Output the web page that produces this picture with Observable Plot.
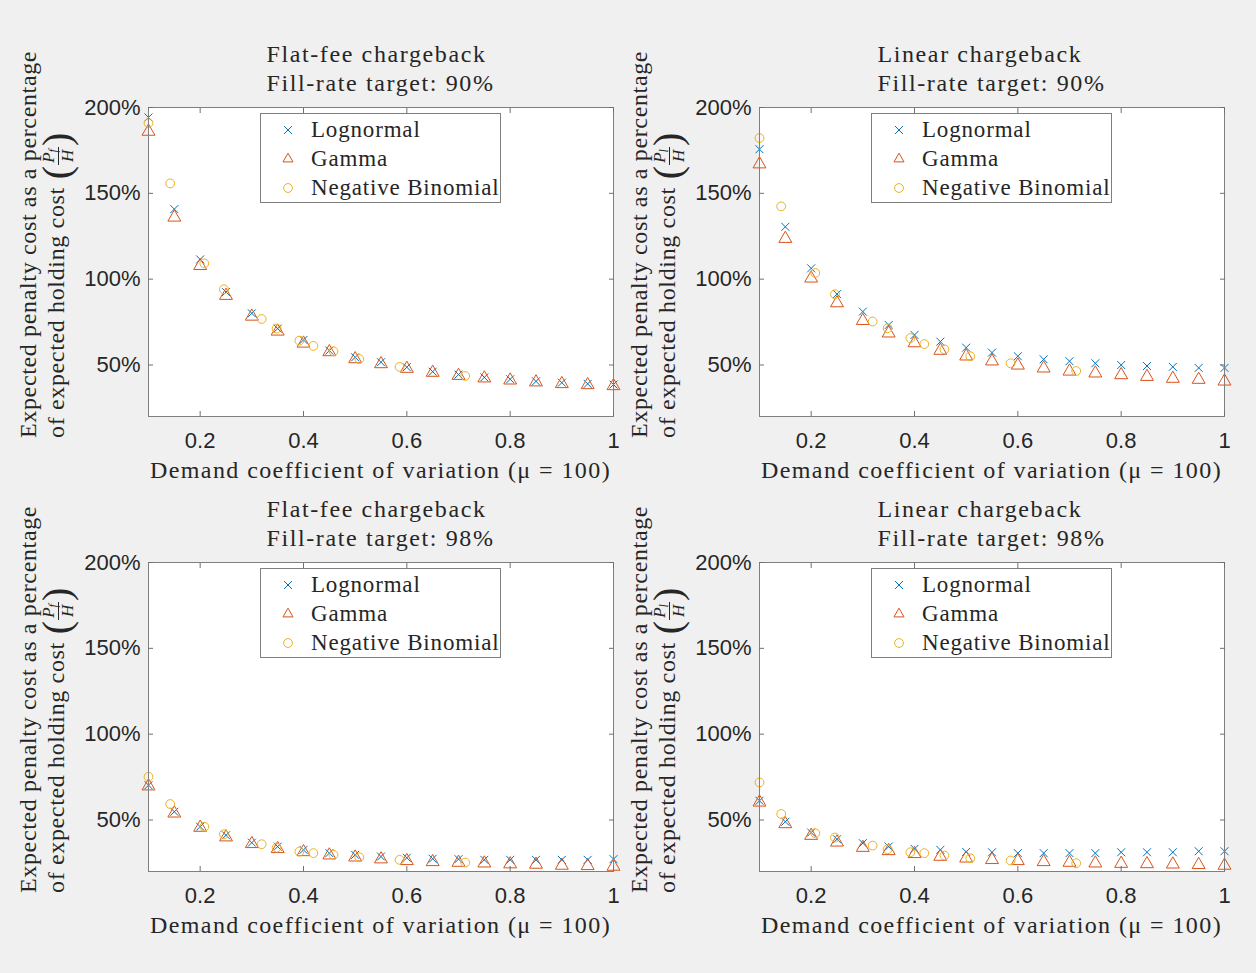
<!DOCTYPE html>
<html>
<head>
<meta charset="utf-8">
<script src="https://cdn.jsdelivr.net/npm/d3@7"></script>
<script src="https://cdn.jsdelivr.net/npm/@observablehq/plot@0.6"></script>
<style>
html, body { margin: 0; padding: 0; background: #f0f0f0; }
#fig { position: relative; width: 1256px; height: 973px; background: #f0f0f0; overflow: hidden; }
.abs { position: absolute; }
.serif { font-family: "Liberation Serif", "Times New Roman", serif; color: #262626; white-space: nowrap; }
.title { font-size: 24px; line-height: 29px; text-align: left; transform: translateX(-50%); }
.xlab { font-size: 24px; line-height: 28px; transform: translateX(-50%); }
.ylab { font-size: 24px; line-height: 28px; transform: rotate(-90deg); transform-origin: 0 0; text-align: left; }
.line { display: block; }
.fit { display: inline-block; }
.par { font-size: 40px; line-height: 0; vertical-align: -6px; font-weight: 300; }
.par.open { margin-left: 8px; }
.frac { display: inline-block; vertical-align: middle; text-align: center; font-size: 17px; line-height: 16px; margin: -16px 1px; letter-spacing: 0; }
.frac .num { display: block; border-bottom: 1px solid #262626; padding: 0 2px 1px 2px; }
.frac .den { display: block; padding-top: 1px; }
.frac sub { font-size: 12px; vertical-align: -3px; line-height: 0; }
.legend { box-sizing: border-box; width: 241px; height: 90px; background: #fff; border: 1px solid #7f7f7f; }
.legend .row { position: absolute; left: 0; height: 29px; width: 100%; }
.legend svg { position: absolute; left: 18px; top: 6px; }
.legend .txt { position: absolute; left: 50px; top: 0; font-size: 23px; line-height: 29px; }
</style>
</head>
<body>
<div id="fig"></div>
<script>
// ---------------- data ----------------
const cv = [0.1, 0.15, 0.2, 0.25, 0.3, 0.35, 0.4, 0.45, 0.5, 0.55, 0.6, 0.65, 0.7, 0.75, 0.8, 0.85, 0.9, 0.95, 1.0];
const nbCv = [0.1, 0.142, 0.208, 0.246, 0.319, 0.348, 0.392, 0.419, 0.458, 0.508, 0.586, 0.713];

const flat90Lognormal = [194.2, 140.8, 111.5, 92.5, 80.1, 71.2, 64.6, 58.4, 54.5, 51.6, 48.7, 46.1, 44.4, 42.8, 41.7, 40.5, 39.7, 39.0, 38.6];
const flat90Gamma = [186.0, 136.0, 107.8, 90.4, 78.3, 69.6, 62.6, 57.6, 53.5, 50.6, 47.9, 45.6, 43.8, 42.3, 41.1, 40.0, 39.0, 38.4, 37.8];
const flat90NegBin = [190.9, 155.8, 109.2, 94.1, 76.8, 71.2, 64.2, 61.1, 58.0, 53.5, 48.9, 43.6];

const linear90Lognormal = [175.7, 130.5, 106.3, 91.3, 81.1, 73.3, 67.5, 63.6, 60.1, 57.2, 55.1, 53.3, 52.2, 51.0, 50.0, 49.4, 48.9, 48.3, 48.3];
const linear90Gamma = [167.0, 123.6, 100.5, 86.1, 75.8, 68.5, 62.8, 58.4, 55.1, 52.2, 49.8, 48.1, 46.3, 45.2, 44.2, 43.2, 42.1, 41.5, 40.5];
const linear90NegBin = [182.2, 142.4, 103.6, 91.2, 75.3, 71.4, 65.7, 62.2, 59.1, 55.1, 51.0, 46.5];

const flat98Lognormal = [70.3, 54.8, 46.1, 41.1, 36.8, 34.5, 32.6, 30.7, 29.7, 28.7, 28.0, 27.4, 27.2, 26.8, 26.8, 26.8, 26.8, 26.8, 27.2];
const flat98Gamma = [69.7, 53.9, 45.6, 40.0, 36.1, 33.2, 31.4, 29.5, 28.3, 27.2, 26.2, 25.6, 25.2, 24.8, 24.3, 24.1, 23.5, 23.3, 22.9];
const flat98NegBin = [75.2, 59.3, 46.1, 41.7, 35.9, 33.9, 31.6, 30.7, 29.7, 28.3, 26.8, 25.2];

const linear98Lognormal = [61.2, 49.0, 42.7, 38.8, 36.5, 34.5, 33.2, 32.6, 31.4, 31.2, 30.7, 30.7, 30.7, 30.7, 31.2, 31.2, 31.2, 31.8, 31.8];
const linear98Gamma = [60.3, 47.7, 40.9, 37.0, 33.9, 32.0, 30.3, 28.7, 27.7, 26.8, 26.2, 25.6, 25.2, 24.8, 24.6, 24.4, 24.2, 23.9, 23.5];
const linear98NegBin = [71.9, 53.5, 42.3, 39.8, 35.1, 33.0, 31.2, 30.7, 29.3, 27.7, 26.4, 24.8];

const seriesNames = ["Lognormal", "Gamma", "Negative Binomial"];
const seriesColors = ["#0072BD", "#D95319", "#EDB120"];
const seriesSymbols = ["times", "triangle", "circle"];
const xTicks = [0.2, 0.4, 0.6, 0.8, 1];
const yTicks = [50, 100, 150, 200];
const xLabel = "Demand coefficient of variation (\u03BC = 100)";
const yLabelLine1 = "Expected penalty cost as a percentage";
const yLabelLine2 = "of expected holding cost";

// ---------------- layout ----------------
const PW = 465, PH = 309;
const ML = 80, MR = 20, MT = 10, MB = 50;
const seriesR = [3.7, 4.8, 4.4];

const panels = [
  {left: 148, top: 107, titles: ["Flat-fee chargeback", "Fill-rate target: 90%"], sub: "f", series: [flat90Lognormal, flat90Gamma, flat90NegBin]},
  {left: 759, top: 107, titles: ["Linear chargeback", "Fill-rate target: 90%"], sub: "l", series: [linear90Lognormal, linear90Gamma, linear90NegBin]},
  {left: 148, top: 562, titles: ["Flat-fee chargeback", "Fill-rate target: 98%"], sub: "f", series: [flat98Lognormal, flat98Gamma, flat98NegBin]},
  {left: 759, top: 562, titles: ["Linear chargeback", "Fill-rate target: 98%"], sub: "l", series: [linear98Lognormal, linear98Gamma, linear98NegBin]}
];

const fig = document.getElementById("fig");
const xsFor = [cv, cv, nbCv];
const fits = [];

function el(tag, cls, parent, style) {
  const e = document.createElement(tag);
  if (cls) e.className = cls;
  if (style) Object.assign(e.style, style);
  (parent || fig).appendChild(e);
  return e;
}

panels.forEach(p => {
  const dotMarks = seriesNames.map((name, k) =>
    Plot.dot(p.series[k].map((v, i) => ({x: xsFor[k][i], y: v, s: name})), {
      x: "x", y: "y", symbol: () => seriesSymbols[k], stroke: () => name, fill: "none",
      r: seriesR[k], strokeWidth: 1
    })
  );
  const chart = Plot.plot({
    width: ML + PW + MR,
    height: MT + PH + MB,
    marginLeft: ML, marginRight: MR, marginTop: MT, marginBottom: MB,
    style: {background: "transparent", fontFamily: "'Liberation Sans', Arial, sans-serif", fontSize: "22px", color: "#262626", overflow: "visible"},
    x: {domain: [0.1, 1]},
    y: {domain: [20, 200]},
    color: {domain: seriesNames, range: seriesColors},
    symbol: {domain: seriesNames, range: seriesSymbols},
    marks: [
      Plot.frame({fill: "white", stroke: "none"}),
      ...dotMarks,
      Plot.frame({stroke: "#7f7f7f", strokeWidth: 1}),
      Plot.axisX({ticks: xTicks, anchor: "bottom", tickSize: -5, fill: "none", stroke: "#6f6f6f", label: null}),
      Plot.axisX({ticks: xTicks, anchor: "top", tickSize: -5, fill: "none", stroke: "#6f6f6f", label: null}),
      Plot.axisY({ticks: yTicks, anchor: "left", tickSize: -5, fill: "none", stroke: "#6f6f6f", label: null}),
      Plot.axisY({ticks: yTicks, anchor: "right", tickSize: -5, fill: "none", stroke: "#6f6f6f", label: null}),
      Plot.axisX({ticks: xTicks, anchor: "bottom", tickSize: 0, tickPadding: 16, label: null, tickFormat: d => String(d)}),
      Plot.axisY({ticks: yTicks, anchor: "left", tickSize: 0, tickPadding: 8, label: null, tickFormat: d => d + "%"})
    ]
  });
  const holder = el("div", "abs", fig, {left: (p.left - ML) + "px", top: (p.top - MT) + "px"});
  holder.appendChild(chart);

  // title (two lines, left aligned block centred on the axes)
  const t = el("div", "abs serif title", fig, {left: (p.left + PW / 2) + "px", top: (p.top - 67) + "px"});
  p.titles.forEach((line, i) => {
    const s = el("span", "line", t);
    const f = el("span", "fit", s);
    f.textContent = line;
    fits.push({node: f, group: "title", ref: i === 1});
  });

  // x label
  const xl = el("div", "abs serif xlab", fig, {left: (p.left + PW / 2) + "px", top: (p.top + PH + 40) + "px"});
  const xf = el("span", "fit", xl);
  xf.textContent = xLabel;
  fits.push({node: xf, group: "xlab", ref: true});

  // y label (rotated, two lines)
  const yl = el("div", "abs serif ylab", fig, {left: (p.left - 134) + "px", top: (p.top + 331) + "px"});
  const l1 = el("span", "line", yl);
  const f1 = el("span", "fit", l1);
  f1.textContent = yLabelLine1;
  fits.push({node: f1, group: "ylab", ref: true});
  const l2 = el("span", "line", yl);
  const f2 = el("span", "fit", l2);
  f2.textContent = yLabelLine2;
  fits.push({node: f2, group: "ylab", ref: false});
  const par1 = el("span", "par open", l2); par1.textContent = "(";
  const frac = el("span", "frac", l2);
  const num = el("span", "num", frac);
  num.innerHTML = "<i>P</i><sub><i>" + p.sub + "</i></sub>";
  const den = el("span", "den", frac);
  den.innerHTML = "<i>H</i>";
  const par2 = el("span", "par", l2); par2.textContent = ")";

  // legend
  const lg = el("div", "abs legend serif", fig, {left: (p.left + 112) + "px", top: (p.top + 6) + "px"});
  seriesNames.forEach((name, k) => {
    const row = el("div", "row", lg, {top: (0.5 + 29 * k) + "px"});
    const svg = d3.select(row).append("svg").attr("width", 18).attr("height", 18);
    const symMap = {times: d3.symbolTimes, triangle: d3.symbolTriangle2, circle: d3.symbolCircle};
    svg.append("path")
      .attr("transform", "translate(9,9)")
      .attr("d", d3.symbol(symMap[seriesSymbols[k]], seriesR[k] * seriesR[k] * Math.PI)())
      .attr("fill", "none").attr("stroke", seriesColors[k]).attr("stroke-width", 1);
    const tx = el("span", "txt fit", row);
    tx.textContent = name;
    fits.push({node: tx, group: "legend", ref: k === 2});
  });
});

// widen the serif text to the proportions of the original (Computer Modern) typesetting
const targets = {title: 228, xlab: 461, ylab: 387, legend: 188};
const spacing = {};
fits.filter(f => f.ref).forEach(f => {
  if (spacing[f.group] !== undefined) return;
  const w = f.node.offsetWidth;
  const n = f.node.textContent.length;
  spacing[f.group] = (targets[f.group] - w) / n;
});
fits.forEach(f => { f.node.style.letterSpacing = (spacing[f.group] || 0) + "px"; });
</script>
</body>
</html>
